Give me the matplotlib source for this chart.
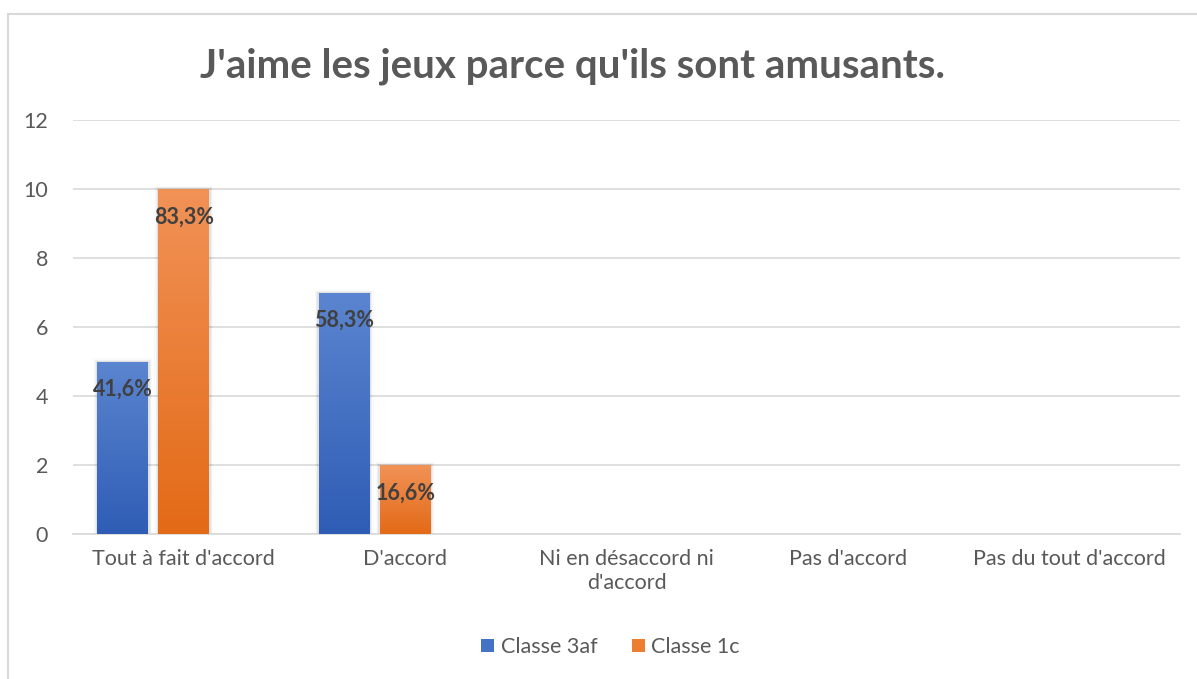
import numpy as np
import matplotlib.pyplot as plt
from matplotlib.colors import LinearSegmentedColormap
from matplotlib.patches import Rectangle, Patch

categories = ["Tout à fait d'accord", "D'accord", "Ni en désaccord ni\nd'accord",
              "Pas d'accord", "Pas du tout d'accord"]
classe_3af = [5, 7, 0, 0, 0]
classe_1c = [10, 2, 0, 0, 0]
labels_3af = ["41,6%", "58,3%", "", "", ""]
labels_1c = ["83,3%", "16,6%", "", "", ""]

plt.rcParams['font.family'] = ['Lato', 'DejaVu Sans']

fig = plt.figure(figsize=(11.97, 6.79), dpi=100)
ax = fig.add_axes([0.061, 0.2135, 0.925, 0.6095])

# chart border (cut off on the right and bottom like the original)
fig.patches.append(Rectangle((8 / 1197, -0.05), 1.2, 1 - 14 / 679 + 0.05,
                             transform=fig.transFigure, fill=False,
                             edgecolor='#d9d9d9', lw=1.5))

x = np.arange(len(categories))
width = 0.23
series = [
    (classe_3af, labels_3af, -0.275, '#5b85d0', '#2f5db5', 'Classe 3af', '#4472c4'),
    (classe_1c, labels_1c, 0.0, '#f19257', '#e36a16', 'Classe 1c', '#ed7d31'),
]

handles = []
for vals, labs, off, top_c, bot_c, name, solid in series:
    cmap = LinearSegmentedColormap.from_list(name, [bot_c, top_c])
    grad = np.linspace(0, 1, 256).reshape(-1, 1)
    for xi, v, lab in zip(x, vals, labs):
        if v <= 0:
            continue
        x0 = xi + off - width / 2
        # soft shadow
        for k, a in enumerate([0.06, 0.04, 0.02]):
            d = 0.006 * (k + 1)
            ax.add_patch(Rectangle((x0 - d, 0), width + 2 * d, v + 0.03 * (k + 1),
                                   facecolor='black', alpha=a, lw=0, zorder=2))
        bar = Rectangle((x0, 0), width, v, facecolor='none', lw=0, zorder=3)
        ax.add_patch(bar)
        im = ax.imshow(grad, cmap=cmap, origin='lower', aspect='auto',
                       extent=[x0, x0 + width, 0, v], zorder=3)
        im.set_clip_path(bar)
        ax.annotate(lab, (xi + off, v), xytext=(0, -28), textcoords='offset pixels',
                    ha='center', va='center', fontsize=15.5, fontweight='bold',
                    color='#404040', zorder=5)
    handles.append(Patch(facecolor=solid, label=name))

ax.set_xlim(-0.5, len(categories) - 0.5)
ax.set_ylim(0, 12)
ax.set_yticks(range(0, 13, 2))
ax.set_xticks(x)
ax.set_xticklabels(categories, fontsize=15.5, color='#595959', linespacing=1.2)
ax.tick_params(axis='y', labelsize=15.5, labelcolor='#595959', length=0, pad=18)
ax.tick_params(axis='x', length=0, pad=11)
ax.grid(axis='y', color='#d9d9d9', lw=1.2, zorder=0)
ax.set_axisbelow(True)
for s in ['top', 'right', 'left']:
    ax.spines[s].set_visible(False)
ax.spines['bottom'].set_color('#d9d9d9')
ax.spines['bottom'].set_linewidth(1.2)

fig.text(0.478, 0.903, "J'aime les jeux parce qu'ils sont amusants.", ha='center',
         va='center', fontsize=29, fontweight='bold', color='#595959')

fig.legend(handles=handles, loc='center', bbox_to_anchor=(0.51, 0.047), ncol=2,
           frameon=False, fontsize=15.5, labelcolor='#595959', handlelength=0.6,
           handleheight=0.6, handletextpad=0.3, columnspacing=1.6)

fig.savefig('out.png', dpi=100)
